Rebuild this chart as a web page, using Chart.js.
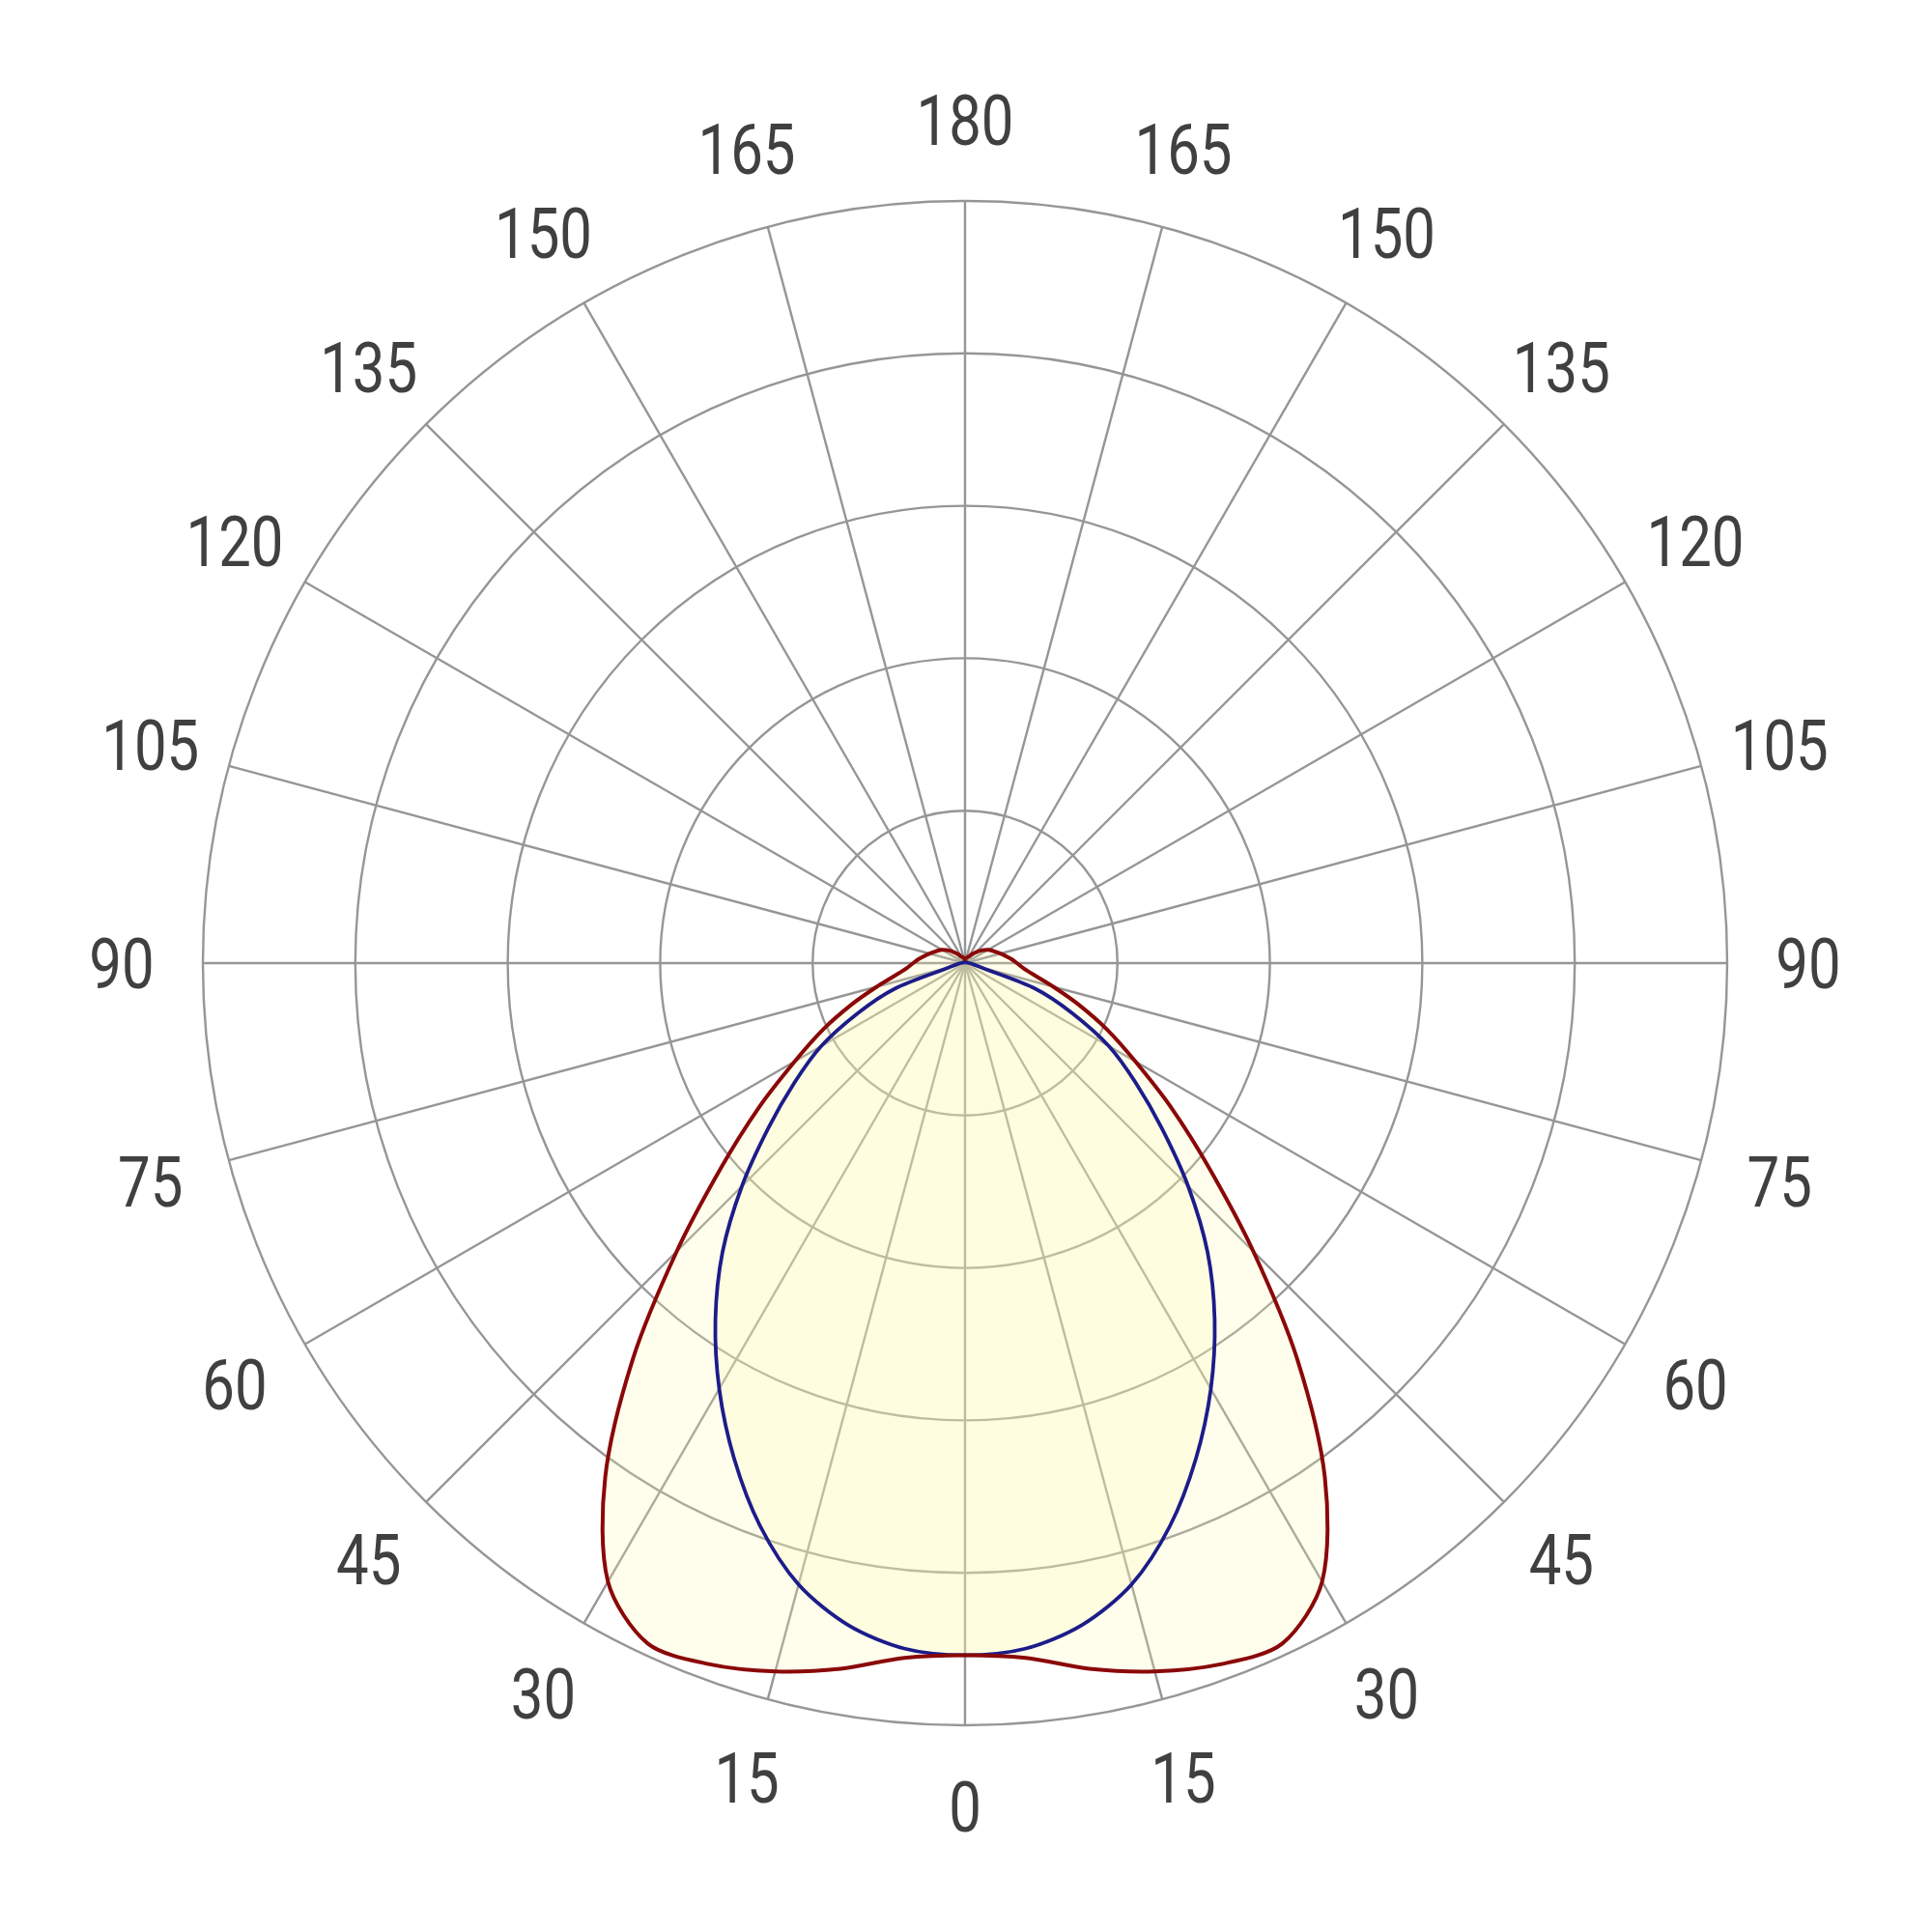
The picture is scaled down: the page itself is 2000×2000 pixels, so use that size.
<!DOCTYPE html>
<html><head><meta charset="utf-8">
<script src="https://cdn.jsdelivr.net/npm/chart.js@4/dist/chart.umd.min.js"></script>
<style>html,body{margin:0;padding:0;background:#fff}#wrap{width:2000px;height:2000px}</style>
</head><body><div id="wrap"><canvas id="c" width="2000" height="2000"></canvas></div>
<script>
// Gamma angles (degrees from nadir), 5° steps
const gammaAngles = [0,5,10,15,20,25,30,35,40,45,50,55,60,65,70,75,80,85,90,95,100,105,110,115,120,125,130,135,140,145,150,155,160,165,170,175,180];
// C0-C180 plane (red), relative intensity
const c0c180 = [0.908,0.915,0.940,0.962,0.979,0.985,0.937,0.823,0.678,0.535,0.418,0.330,0.258,0.205,0.158,0.120,0.093,0.077,0.068,0.061,0.054,0.048,0.043,0.039,0.035,0.030,0.025,0.020,0.016,0.013,0.010,0.009,0.008,0.007,0.006,0.005,0.005];
// C90-C270 plane (blue), relative intensity
const c90c270 = [0.908,0.903,0.882,0.844,0.786,0.717,0.645,0.571,0.495,0.414,0.337,0.273,0.218,0.155,0.098,0.022,0.012,0.008,0.006,0.004,0.003,0.003,0.002,0.002,0.002,0.002,0.002,0.002,0.001,0.001,0.001,0.001,0.001,0.001,0.001,0.001,0.001];
// Angle tick labels shown every 15°
const tickEvery = 15;

// Radar order: top (180) clockwise to bottom (0) and back up the left side
const radarGammas = [];
for (let i = 0; i < 72; i++) radarGammas.push(i <= 36 ? 180 - 5 * i : 5 * (i - 36));
const labels = radarGammas.map(String);
const mirror = vals => radarGammas.map(g => vals[gammaAngles.indexOf(g)]);
const isTick = i => radarGammas[i] % tickEvery === 0;

const gridColor = '#969696';
const labelFontSize = 73;

const gammaLabels = {
  id: 'gammaLabels',
  afterDraw(chart) {
    const scale = chart.scales.r;
    const ctx = chart.ctx;
    ctx.save();
    ctx.font = labelFontSize + 'px Roboto, "DejaVu Sans", sans-serif';
    ctx.fillStyle = '#404040';
    ctx.textAlign = 'center';
    ctx.textBaseline = 'alphabetic';
    const cap = labelFontSize * 0.711;
    labels.forEach((l, i) => {
      if (!isTick(i)) return;
      const p = scale.getPointPosition(i, scale.drawingArea + 84);
      ctx.save();
      ctx.translate(p.x, p.y + cap / 2);
      ctx.scale(0.82, 1);
      ctx.fillText(l, 0, 0);
      ctx.restore();
    });
    ctx.restore();
  }
};

new Chart(document.getElementById('c'), {
  type: 'radar',
  data: {
    labels,
    datasets: [
      { label: 'C0-C180', data: mirror(c0c180), borderColor: '#8a0808', borderWidth: 4,
        backgroundColor: 'rgba(255,250,175,0.22)', fill: true, pointRadius: 0, tension: 0.3, order: 0 },
      { label: 'C90-C270', data: mirror(c90c270), borderColor: '#1c1c8a', borderWidth: 3.8,
        backgroundColor: 'rgba(255,250,175,0.22)', fill: true, pointRadius: 0, tension: 0.3, order: 1 }
    ]
  },
  options: {
    responsive: false, devicePixelRatio: 1, animation: false,
    layout: { padding: { top: 208, bottom: 214, left: 210, right: 212 } },
    plugins: { legend: { display: false }, tooltip: { enabled: false }, filler: { drawTime: 'beforeDatasetsDraw' } },
    scales: {
      r: {
        min: 0, max: 1,
        ticks: { display: false, stepSize: 0.2 },
        grid: { circular: true, color: gridColor, lineWidth: 2.4 },
        angleLines: { color: c => isTick(c.index) ? gridColor : 'rgba(0,0,0,0)', lineWidth: 2.4 },
        pointLabels: { display: false }
      }
    }
  },
  plugins: [gammaLabels]
});
</script></body></html>
